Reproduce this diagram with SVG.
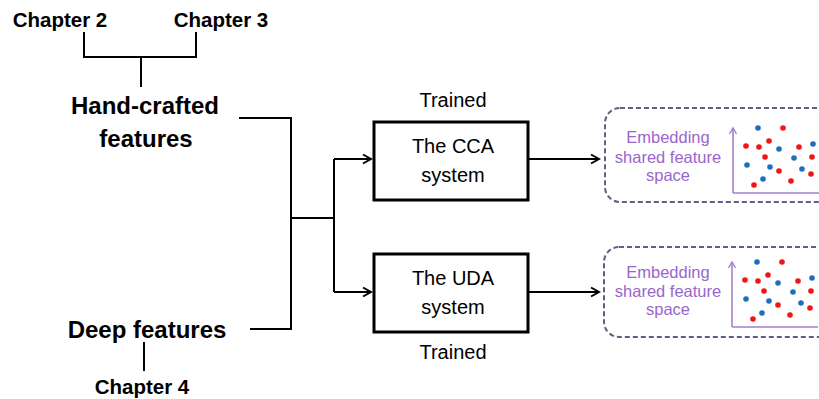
<svg xmlns="http://www.w3.org/2000/svg" xmlns:xlink="http://www.w3.org/1999/xlink" width="819" height="399" viewBox="0 0 819 399">
  <style>
    .lbl { font-family: "Liberation Sans", Arial, sans-serif; font-weight: bold; font-size: 24px; fill: #000; text-anchor: middle; }
    .chap { font-family: "Liberation Sans", Arial, sans-serif; font-weight: bold; font-size: 20.5px; fill: #000; text-anchor: middle; }
    .txt { font-family: "Liberation Sans", Arial, sans-serif; font-size: 20px; fill: #000; text-anchor: middle; }
    .emb { font-family: "Liberation Sans", Arial, sans-serif; font-size: 16.5px; fill: #9966cc; text-anchor: middle; }
    .wire { fill: none; stroke: #000; stroke-width: 2; }
    .box { fill: #fff; stroke: #000; stroke-width: 3; }
    .panel { fill: #fff; stroke: #6e5a86; stroke-width: 2; stroke-dasharray: 5 3; }
    .axis { fill: none; stroke: #a47fcc; stroke-width: 1.6; }
    .b { fill: #1f6dbf; }
    .r { fill: #f01414; }
  </style>
  <defs>
    <marker id="arr" markerWidth="12" markerHeight="12" refX="10" refY="6" orient="auto" markerUnits="userSpaceOnUse">
      <path d="M2,1.5 L10,6 L2,10.5" fill="none" stroke="#000" stroke-width="2"/>
    </marker>
    <marker id="axarr" markerWidth="10" markerHeight="10" refX="8" refY="5" orient="auto" markerUnits="userSpaceOnUse">
      <path d="M2,1.5 L8,5 L2,8.5" fill="none" stroke="#a47fcc" stroke-width="1.4"/>
    </marker>
    <!-- scatter plot of the shared feature space -->
    <g id="plot">
      <path class="axis" d="M733,193 L733,128" marker-end="url(#axarr)"/>
      <path class="axis" d="M733,193 L819,193"/>
      <circle class="b" cx="758" cy="128" r="2.8"/>
      <circle class="b" cx="779" cy="149" r="2.8"/>
      <circle class="b" cx="813" cy="144" r="2.8"/>
      <circle class="b" cx="747" cy="165" r="2.8"/>
      <circle class="b" cx="770" cy="167" r="2.8"/>
      <circle class="b" cx="794" cy="158" r="2.8"/>
      <circle class="b" cx="802" cy="169" r="2.8"/>
      <circle class="b" cx="763" cy="179" r="2.8"/>
      <circle class="r" cx="783" cy="128" r="2.8"/>
      <circle class="r" cx="746" cy="146" r="2.8"/>
      <circle class="r" cx="759" cy="147" r="2.8"/>
      <circle class="r" cx="769" cy="141" r="2.8"/>
      <circle class="r" cx="765" cy="157" r="2.8"/>
      <circle class="r" cx="799" cy="147" r="2.8"/>
      <circle class="r" cx="812" cy="157" r="2.8"/>
      <circle class="r" cx="779" cy="171" r="2.8"/>
      <circle class="r" cx="811" cy="174" r="2.8"/>
      <circle class="r" cx="791" cy="181" r="2.8"/>
      <circle class="r" cx="754" cy="185" r="2.8"/>
    </g>
  </defs>

  <!-- connectors -->
  <g id="connectors">
    <path class="wire" d="M84,32 L84,57 L196,57 L196,32"/>
    <path class="wire" d="M141,57 L141,87"/>
    <path class="wire" d="M144,342 L144,371"/>
    <path class="wire" d="M239,118 L291,118 L291,329 L250,329"/>
    <path class="wire" d="M291,218 L334,218"/>
    <path class="wire" d="M334,159 L334,292"/>
    <path class="wire" d="M334,159 L371,159" marker-end="url(#arr)"/>
    <path class="wire" d="M334,292 L371,292" marker-end="url(#arr)"/>
    <path class="wire" d="M528,159 L599,159" marker-end="url(#arr)"/>
    <path class="wire" d="M528,292 L599,292" marker-end="url(#arr)"/>
  </g>

  <g id="chapter2"><text class="chap" x="60" y="27">Chapter 2</text></g>
  <g id="chapter3"><text class="chap" x="221" y="27">Chapter 3</text></g>
  <g id="handcrafted">
    <text class="lbl" x="145" y="114">Hand-crafted</text>
    <text class="lbl" x="146" y="147">features</text>
  </g>
  <g id="deep"><text class="lbl" x="147" y="338">Deep features</text></g>
  <g id="chapter4"><text class="chap" x="142" y="394">Chapter 4</text></g>

  <g id="cca">
    <text class="txt" x="453" y="107">Trained</text>
    <rect class="box" x="374" y="122" width="154" height="78"/>
    <text class="txt" x="453" y="153">The CCA</text>
    <text class="txt" x="453" y="182">system</text>
  </g>
  <g id="uda">
    <rect class="box" x="374" y="254" width="154" height="78"/>
    <text class="txt" x="453" y="285">The UDA</text>
    <text class="txt" x="453" y="314">system</text>
    <text class="txt" x="453" y="359">Trained</text>
  </g>

  <g id="space1">
    <rect class="panel" x="605" y="108" width="230" height="94" rx="15"/>
    <text class="emb" x="668" y="143">Embedding</text>
    <text class="emb" x="668" y="163">shared feature</text>
    <text class="emb" x="668" y="181">space</text>
    <use xlink:href="#plot"/>
  </g>
  <g id="space2">
    <rect class="panel" x="604" y="247" width="230" height="90" rx="15"/>
    <text class="emb" x="668" y="278">Embedding</text>
    <text class="emb" x="668" y="297">shared feature</text>
    <text class="emb" x="668" y="315">space</text>
    <use xlink:href="#plot" transform="translate(-1,134)"/>
  </g>
</svg>
